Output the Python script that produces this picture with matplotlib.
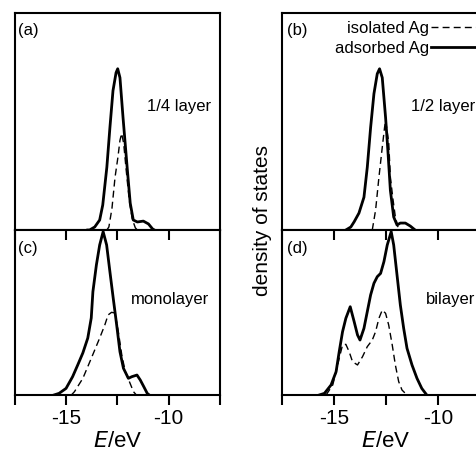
import matplotlib
matplotlib.use("Agg")
import matplotlib.pyplot as plt
from matplotlib.ticker import MultipleLocator

plt.rcParams['font.family'] = ['Liberation Sans', 'DejaVu Sans']
plt.rcParams['axes.unicode_minus'] = False

# energies (eV) and density of states (arbitrary units, 1 = full panel height)
# (a) 1/4 layer
a_ads_E = [-13.95, -13.86, -13.61, -13.37, -13.22, -13.02, -12.87, -12.72, -12.57, -12.49,
           -12.38, -12.23, -12.03, -11.88, -11.73, -11.53, -11.24, -10.99, -10.79, -10.7]
a_ads_D = [0.0, 0.0, 0.014, 0.046, 0.115, 0.289, 0.472, 0.642, 0.725, 0.743,
           0.702, 0.518, 0.289, 0.124, 0.046, 0.037, 0.041, 0.028, 0.005, 0.0]
a_iso_E = [-13.02, -12.92, -12.77, -12.62, -12.48, -12.38, -12.30, -12.20, -12.08, -11.93,
           -11.78, -11.63, -11.53]
a_iso_D = [0.0, 0.014, 0.10, 0.243, 0.335, 0.413, 0.445, 0.40, 0.28, 0.14,
           0.05, 0.01, 0.0]

# (b) 1/2 layer
b_ads_E = [-14.43, -14.19, -14.03, -13.80, -13.56, -13.40, -13.24, -13.08, -12.92, -12.81,
           -12.68, -12.52, -12.41, -12.29, -12.13, -11.97, -11.81, -11.57, -11.33, -11.10]
b_ads_D = [0.0, 0.014, 0.038, 0.078, 0.151, 0.289, 0.472, 0.628, 0.720, 0.743,
           0.702, 0.518, 0.367, 0.183, 0.060, 0.023, 0.032, 0.032, 0.018, 0.0]
b_iso_E = [-13.16, -13.0, -12.84, -12.68, -12.57, -12.52, -12.37, -12.29, -12.16, -12.05, -11.89]
b_iso_D = [0.0, 0.092, 0.243, 0.381, 0.472, 0.505, 0.404, 0.243, 0.138, 0.060, 0.0]

# (c) monolayer
c_ads_E = [-15.6, -15.35, -15.01, -14.69, -14.44, -14.19, -13.95, -13.78, -13.70, -13.53,
           -13.37, -13.20, -13.03, -12.87, -12.71, -12.54, -12.38, -12.21, -11.97, -11.80,
           -11.55, -11.39, -11.22, -11.05, -10.95]
c_ads_D = [0.0, 0.010, 0.040, 0.111, 0.182, 0.255, 0.345, 0.467, 0.626, 0.788,
           0.909, 0.99, 0.909, 0.747, 0.588, 0.424, 0.262, 0.162, 0.101, 0.111,
           0.121, 0.091, 0.051, 0.010, 0.0]
c_iso_E = [-14.75, -14.60, -14.19, -13.78, -13.37, -13.12, -12.96, -12.79, -12.62, -12.46,
           -12.29, -12.12, -11.92, -11.72, -11.58]
c_iso_D = [0.0, 0.020, 0.101, 0.222, 0.345, 0.424, 0.485, 0.501, 0.497, 0.384,
           0.242, 0.141, 0.081, 0.020, 0.0]

# (d) bilayer
d_ads_E = [-15.71, -15.46, -15.14, -14.90, -14.75, -14.59, -14.43, -14.22, -14.03, -13.87,
           -13.75, -13.56, -13.40, -13.24, -13.08, -12.92, -12.76, -12.60, -12.44, -12.25,
           -12.13, -11.97, -11.81, -11.65, -11.49, -11.25, -11.01, -10.78, -10.54]
d_ads_D = [0.0, 0.010, 0.061, 0.141, 0.262, 0.383, 0.465, 0.535, 0.444, 0.364,
           0.333, 0.404, 0.505, 0.606, 0.677, 0.717, 0.737, 0.808, 0.909, 0.99,
           0.909, 0.727, 0.545, 0.404, 0.283, 0.182, 0.101, 0.040, 0.0]
d_iso_E = [-15.38, -15.06, -14.90, -14.75, -14.59, -14.43, -14.27, -14.11, -13.87, -13.63,
           -13.40, -13.16, -13.0, -12.84, -12.68, -12.52, -12.37, -12.20, -12.05, -11.89,
           -11.73, -11.57, -11.43]
d_iso_D = [0.0, 0.061, 0.141, 0.222, 0.303, 0.307, 0.262, 0.202, 0.182, 0.232,
           0.293, 0.333, 0.384, 0.465, 0.515, 0.495, 0.424, 0.303, 0.182, 0.081,
           0.030, 0.010, 0.0]

panel_tags = ['(a)', '(b)', '(c)', '(d)']
panel_names = ['1/4 layer', '1/2 layer', 'monolayer', 'bilayer']

W, H = 477, 454
fig = plt.figure(figsize=(W / 100, H / 100), dpi=100)


def make_axes(x0, x1, y0, y1):
    # pixel box -> figure fraction
    return fig.add_axes([x0 / W, 1 - y1 / H, (x1 - x0) / W, (y1 - y0) / H])


ax_a = make_axes(15, 220, 13, 230)
ax_b = make_axes(282, 490, 13, 230)
ax_c = make_axes(15, 220, 230, 395)
ax_d = make_axes(282, 490, 230, 395)

data = [(ax_a, a_iso_E, a_iso_D, a_ads_E, a_ads_D),
        (ax_b, b_iso_E, b_iso_D, b_ads_E, b_ads_D),
        (ax_c, c_iso_E, c_iso_D, c_ads_E, c_ads_D),
        (ax_d, d_iso_E, d_iso_D, d_ads_E, d_ads_D)]

name_pos = [(0.644, 0.571), (0.62, 0.571), (0.566, 0.576), (0.692, 0.576)]

for i, (ax, iE, iD, sE, sD) in enumerate(data):
    ax.plot(iE, iD, color='black', lw=1.0, ls=(0, (5, 3)), label='isolated Ag')
    ax.plot(sE, sD, color='black', lw=2.0, label='adsorbed Ag')
    ax.set_xlim(-17.5, -7.5)
    ax.set_ylim(0, 1)
    ax.set_yticks([])
    ax.xaxis.set_major_locator(MultipleLocator(5))
    ax.xaxis.set_minor_locator(MultipleLocator(2.5))
    for sp in ax.spines.values():
        sp.set_linewidth(1.5)
    ax.text(0.015 if i % 2 == 0 else 0.024, 0.92 if i < 2 else 0.89, panel_tags[i],
            transform=ax.transAxes, fontsize=12, va='center', ha='left')
    ax.text(name_pos[i][0], name_pos[i][1], panel_names[i],
            transform=ax.transAxes, fontsize=12, va='center', ha='left')
    if i < 2:
        ax.tick_params(axis='x', which='both', bottom=False, labelbottom=False)
    else:
        ax.tick_params(axis='x', which='both', direction='out', length=7, width=1.5,
                       top=True, labelsize=15, pad=3)
        ax.set_xlabel('$E$/eV', fontsize=16, labelpad=2)
        ax.set_xticklabels([], minor=True)

# top ticks on lower panels point into the panel
for ax in (ax_c, ax_d):
    for t in ax.xaxis.get_major_ticks() + ax.xaxis.get_minor_ticks():
        t.tick2line.set_marker(matplotlib.lines.TICKDOWN)
        t.tick2line.set_markersize(7)

ax_b.legend(loc='upper right', bbox_to_anchor=(1.0, 1.0), frameon=False, markerfirst=False,
            fontsize=12, handlelength=3.1, handletextpad=0.1, labelspacing=0.3,
            borderaxespad=0.15, borderpad=0.3)

fig.text(262 / W, 1 - 220 / H, 'density of states', rotation=90, fontsize=15,
         ha='center', va='center')

fig.savefig('out.png', dpi=100)
